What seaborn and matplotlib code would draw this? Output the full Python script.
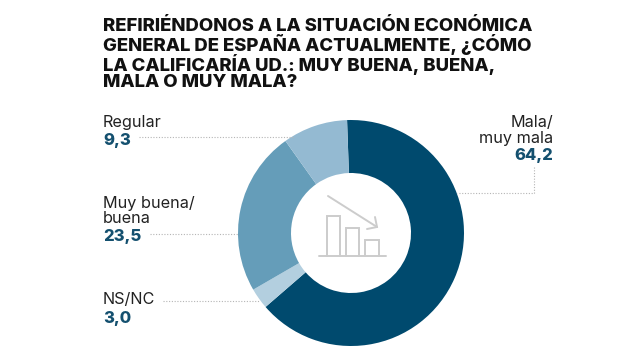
import matplotlib
matplotlib.use('Agg')
import matplotlib.pyplot as plt
import seaborn as sns

# data
categories = ['Mala/\nmuy mala', 'NS/NC', 'Muy buena/\nbuena', 'Regular']
values = [64.2, 3.0, 23.5, 9.3]
value_labels = ['64,2', '3,0', '23,5', '9,3']
slice_colors = ['#004a6e', '#b3cfdf', '#659db9', '#94bad2']
title = ('REFIRIÉNDONOS A LA SITUACIÓN ECONÓMICA\n'
         'GENERAL DE ESPAÑA ACTUALMENTE, ¿CÓMO\n'
         'LA CALIFICARÍA UD.: MUY BUENA, BUENA,\n'
         'MALA O MUY MALA?')

sns.set_theme(style='white')
plt.rcParams['font.family'] = ['Inter', 'DejaVu Sans']

fig = plt.figure(figsize=(6.4, 3.6), dpi=100)
ax = fig.add_axes([0, 0, 1, 1])
ax.set_xlim(0, 640)
ax.set_ylim(360, 0)
ax.axis('off')

# donut in its own axes, square and in pixels of the figure
cx, cy, r = 351, 233, 113
pie_ax = fig.add_axes([(cx - r) / 640, (360 - cy - r) / 360, 2 * r / 640, 2 * r / 360])
pie_ax.pie(values, colors=slice_colors, startangle=92, counterclock=False, radius=1,
           wedgeprops=dict(width=1 - 60 / 113, linewidth=0))
pie_ax.set_xlim(-1, 1)
pie_ax.set_ylim(-1, 1)

ax.text(103, 18, title, fontsize=13.35, fontweight=800, color='#111111', va='top', ha='left', linespacing=0.94)

label_color = '#222222'
value_color = '#14506f'
dot = dict(color='#b5b5b5', lw=0.8, ls=(0, (1, 1.5)))

# left labels
ax.text(103, 122, categories[3], fontsize=11.7, color=label_color, va='center')
ax.text(103, 140, value_labels[3], fontsize=12, fontweight=800, color=value_color, va='center')
ax.plot([139, 293], [137, 137], **dot)

ax.text(103, 211, categories[2], fontsize=11.7, color=label_color, va='center', linespacing=1.05)
ax.text(103, 237, value_labels[2], fontsize=12, fontweight=800, color=value_color, va='center')
ax.plot([150, 238], [234, 234], **dot)

ax.text(103, 300, categories[1], fontsize=11.7, color=label_color, va='center')
ax.text(103, 318, value_labels[1], fontsize=12, fontweight=800, color=value_color, va='center')
ax.plot([163, 260], [301, 301], **dot)

# right label
ax.text(553, 130.5, categories[0], fontsize=11.7, color=label_color, va='center', ha='right', linespacing=1.05, multialignment='right')
ax.text(553, 155.5, value_labels[0], fontsize=12, fontweight=800, color=value_color, va='center', ha='right')
ax.plot([534, 534, 457], [167, 193, 193], **dot)

# icon in the middle
icon = dict(color='#cccccc', lw=1.4, solid_capstyle='round', solid_joinstyle='miter')
ax.plot([319, 386], [256, 256], **icon)
ax.plot([327, 327, 340, 340], [256, 216, 216, 256], **icon)
ax.plot([346, 346, 359, 359], [256, 228, 228, 256], **icon)
ax.plot([365, 365, 379, 379], [256, 240, 240, 256], **icon)
ax.plot([328, 377], [196, 227], **icon)
ax.plot([367, 377, 375], [229, 227, 217], **icon)

ax.set_zorder(2)
ax.patch.set_alpha(0)
fig.savefig('out.png', dpi=100)
